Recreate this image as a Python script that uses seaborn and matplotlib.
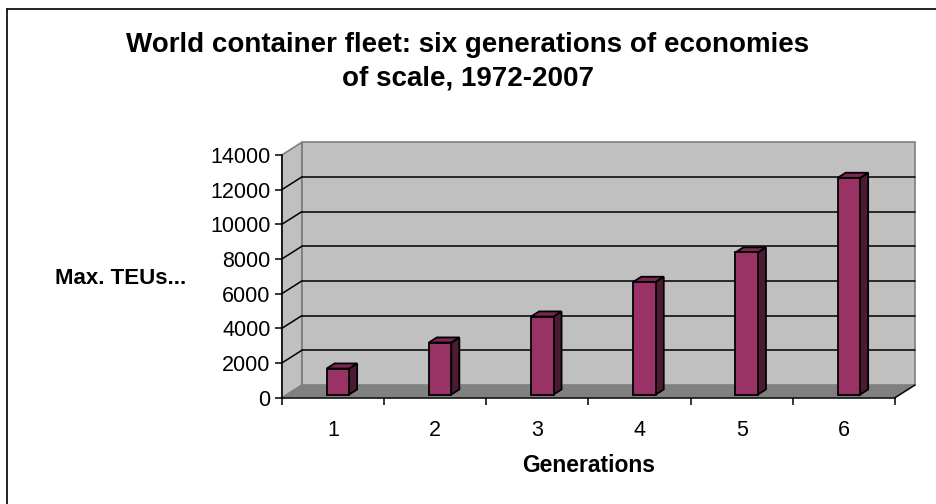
import matplotlib
matplotlib.use("Agg")
import matplotlib.pyplot as plt
import seaborn as sns
import pandas as pd
from matplotlib.patches import Polygon, Rectangle
from matplotlib.lines import Line2D

# ---- data ----
generations = ["1", "2", "3", "4", "5", "6"]
max_teus = [1500, 3000, 4500, 6500, 8200, 12500]
y_ticks = [0, 2000, 4000, 6000, 8000, 10000, 12000, 14000]
title = "World container fleet: six generations of economies\nof scale, 1972-2007"
x_label = "Generations"
y_label = "Max. TEUs..."

sns.set_style("white")
plt.rcParams["font.family"] = ["Liberation Sans", "DejaVu Sans"]
plt.rcParams["text.color"] = "black"
plt.rcParams["xtick.labelcolor"] = "black"
plt.rcParams["ytick.labelcolor"] = "black"

W, H = 937, 504
fig = plt.figure(figsize=(W / 100, H / 100), dpi=100)

# front plane of the 3-D box, in pixels
L, R = 281.8, 895.0
Y0, YT = 397.7, 155.0
ax = fig.add_axes([L / W, (H - Y0) / H, (R - L) / W, (Y0 - YT) / H])
ax.set_xlim(-0.5, 5.5)
ax.set_ylim(0, 14000)
ax.patch.set_alpha(0)

ux = (R - L) / 6.0            # px per category
uy = (Y0 - YT) / 14000.0      # px per TEU
DX, DY = 20.0 / ux, 12.7 / uy  # depth offset in data units

wall = "#C0C0C0"
floor = "#808080"
edge = "#808080"

# back wall
ax.add_patch(Rectangle((-0.5 + DX, DY), 6, 14000, facecolor=wall, edgecolor=edge,
                       lw=1.2, clip_on=False, zorder=0))
# left wall
ax.add_patch(Polygon([(-0.5, 0), (-0.5, 14000), (-0.5 + DX, 14000 + DY), (-0.5 + DX, DY)],
                     closed=True, facecolor=wall, edgecolor=edge, lw=1.2, clip_on=False, zorder=0))
# floor
ax.add_patch(Polygon([(-0.5, 0), (5.5, 0), (5.5 + DX, DY), (-0.5 + DX, DY)],
                     closed=True, facecolor=floor, edgecolor="none", clip_on=False, zorder=0.5))
# gridlines on back and left walls
for v in y_ticks[1:-1]:
    ax.add_line(Line2D([-0.5 + DX, 5.5 + DX], [v + DY, v + DY], color="black", lw=1.1,
                       clip_on=False, zorder=0.6))
    ax.add_line(Line2D([-0.5, -0.5 + DX], [v, v + DY], color="black", lw=1.1,
                       clip_on=False, zorder=0.6))
# right edge of floor
ax.add_line(Line2D([5.5, 5.5 + DX], [0, DY], color="black", lw=1.1, clip_on=False, zorder=0.6))

df = pd.DataFrame({"gen": generations, "teu": max_teus})
sns.barplot(data=df, x="gen", y="teu", width=0.22, color="#993366", saturation=1,
            edgecolor="black", linewidth=1.3, ax=ax, zorder=2)

f = 0.25          # depth position of bar front
bd = 0.4          # bar depth as a fraction of floor depth
for p in list(ax.patches):
    if not isinstance(p, Rectangle) or p.get_facecolor()[:3] == matplotlib.colors.to_rgb(wall):
        continue
    if abs(p.get_width() - 0.22) > 1e-6:
        continue
    p.set_x(p.get_x() + f * DX)
    p.set_y(f * DY)
    p.set_clip_on(False)
    x0, x1 = p.get_x(), p.get_x() + p.get_width()
    yb, yt = p.get_y(), p.get_y() + p.get_height()
    bx, by = bd * DX, bd * DY
    ax.add_patch(Polygon([(x1, yb), (x1 + bx, yb + by), (x1 + bx, yt + by), (x1, yt)],
                         closed=True, facecolor="#4d1a33", edgecolor="black", lw=1.3,
                         clip_on=False, zorder=1.9))
    ax.add_patch(Polygon([(x0, yt), (x1, yt), (x1 + bx, yt + by), (x0 + bx, yt + by)],
                         closed=True, facecolor="#7a2852", edgecolor="black", lw=1.3,
                         clip_on=False, zorder=1.9))

# axes styling
for s in ["top", "right"]:
    ax.spines[s].set_visible(False)
for s in ["left", "bottom"]:
    ax.spines[s].set_color("black")
    ax.spines[s].set_linewidth(1.1)
    ax.spines[s].set_zorder(3)
ax.set_yticks(y_ticks)
ax.set_yticklabels([str(v) for v in y_ticks])
ax.set_xticks(range(6))
ax.set_xticklabels(generations)
ax.set_xticks([i - 0.5 for i in range(7)], minor=True)
ax.tick_params(axis="y", direction="out", length=5, width=1.1, color="black",
               labelsize=15.5, pad=3, left=True, labelcolor="black")
ax.tick_params(axis="x", which="major", length=0, labelsize=15.5, pad=16, labelcolor="black")
ax.tick_params(axis="x", which="minor", direction="out", length=5, width=1.1,
               color="black", bottom=True)
ax.set_xlabel("")
ax.set_ylabel("")

fig.text(468 / W, 1 - 62 / H, title, ha="center", va="center", fontsize=20,
         fontweight="bold", linespacing=1.4, color="black")
fig.text(121 / W, 1 - 278 / H, y_label, ha="center", va="center", fontsize=16,
         fontweight="bold", color="black")
fig.text(589 / W, 1 - 466 / H, x_label, ha="center", va="center", fontsize=16.5,
         fontweight="bold", color="black")

# chart border (top and left visible)
fig.add_artist(Line2D([7 / W, 1], [1 - 9 / H, 1 - 9 / H], transform=fig.transFigure,
                      color="black", lw=1.2))
fig.add_artist(Line2D([7 / W, 7 / W], [0, 1 - 9 / H], transform=fig.transFigure,
                      color="black", lw=1.2))

fig.savefig("out.png", dpi=100)
